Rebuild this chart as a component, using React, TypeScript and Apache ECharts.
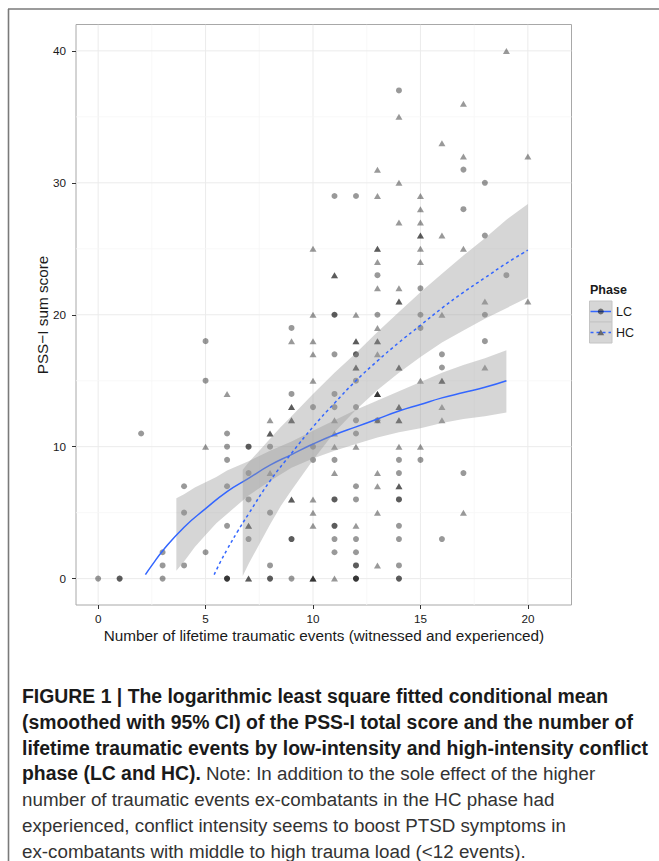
import React, { useEffect, useRef } from "react";
import * as echarts from "echarts";

// ---- axis ticks / grid ----
const xTicks = [0, 5, 10, 15, 20];
const yTicks = [0, 10, 20, 30, 40];
const xMinorGrid = [2.5, 7.5, 12.5, 17.5];
const yMinorGrid = [5, 15, 25, 35];

// ---- observed points (duplicates = overlapping, darker marks) ----
const lcPoints: [number, number][] = [
  [5, 18], [5, 15], [2, 11], [6, 11], [6, 10], [7, 10], [7, 10], [6, 9], [7, 8], [4, 7], [6, 7], [7, 6],
  [4, 5], [6, 4], [7, 3], [3, 2], [5, 2], [3, 1], [4, 1], [0, 0], [1, 0], [1, 0], [3, 0], [6, 0], [6, 0], [6, 0],
  [9, 19], [15, 19], [18, 18], [11, 17], [12, 17], [12, 17], [16, 17], [16, 16], [12, 15], [9, 14], [11, 14],
  [10, 13], [11, 13], [12, 13], [12, 12], [13, 12], [12, 11], [8, 10], [10, 10], [10, 9], [11, 9], [14, 9], [15, 9],
  [14, 8], [17, 8], [12, 7], [11, 6], [11, 6], [12, 6], [14, 6], [14, 6], [8, 5], [11, 4], [11, 4], [14, 4],
  [9, 3], [9, 3], [11, 3], [12, 3], [14, 3], [16, 3], [11, 2], [12, 2], [8, 1], [12, 1], [12, 1], [14, 1],
  [8, 0], [8, 0], [9, 0], [12, 0], [12, 0], [12, 0], [14, 0], [14, 0],
  [14, 37], [17, 31], [18, 30], [11, 29], [12, 29], [17, 28], [18, 26], [13, 23], [19, 23], [15, 22],
  [11, 20], [11, 20], [13, 20], [15, 20], [18, 20],
];
const hcPoints: [number, number][] = [
  [6, 14], [5, 10], [7, 4], [7, 4], [7, 0], [7, 0],
  [13, 19], [9, 18], [10, 18], [12, 18], [12, 18], [13, 18], [13, 18], [10, 17], [13, 17], [12, 16], [12, 16],
  [14, 16], [14, 16], [18, 16], [10, 15], [15, 15], [16, 15], [16, 15], [13, 14], [13, 14], [13, 14], [9, 13], [9, 13],
  [14, 13], [14, 13], [16, 13], [8, 12], [9, 12], [9, 12], [11, 12], [13, 12], [14, 12], [14, 12], [16, 12],
  [8, 11], [8, 11], [11, 11], [11, 10], [12, 10], [14, 10], [15, 10], [8, 8], [11, 8], [13, 8], [13, 7], [14, 7], [14, 7],
  [9, 6], [9, 6], [10, 6], [10, 5], [13, 5], [17, 5], [10, 4], [12, 4], [13, 1], [10, 0], [10, 0], [10, 0], [11, 0],
  [19, 40], [17, 36], [14, 35], [16, 33], [17, 32], [20, 32], [13, 31], [14, 30], [13, 29], [15, 29], [15, 28],
  [14, 27], [15, 27], [15, 26], [15, 26], [16, 26], [10, 25], [13, 25], [13, 25], [15, 25], [17, 25], [13, 24], [15, 24],
  [11, 23], [11, 23], [13, 22], [14, 22], [14, 21], [14, 21], [18, 21], [20, 21], [10, 20], [12, 20], [16, 20],
];

// ---- fitted curves and 95% CI bands ----
const lcFitX = [2.2, 2.5, 3, 4, 5, 6, 7, 8, 9, 10, 11, 12, 13, 14, 15, 16, 17, 18, 19];
const lcFitY = [0.3, 1.0, 2.1, 3.9, 5.3, 6.6, 7.6, 8.6, 9.4, 10.2, 10.9, 11.5, 12.1, 12.7, 13.2, 13.7, 14.1, 14.5, 15.0];
const lcBandX = [3.64, 4, 4.5, 5, 5.5, 6, 7, 8, 9, 10, 11, 12, 13, 14, 15, 16, 17, 18, 19];
const lcBandLo = [0.6, 1.3, 2.4, 3.3, 4.2, 4.9, 6.3, 7.4, 8.4, 9.1, 9.7, 10.2, 10.7, 11.1, 11.4, 11.8, 12.1, 12.3, 12.6];
const lcBandHi = [6.1, 6.4, 6.9, 7.3, 7.7, 8.2, 8.9, 9.7, 10.4, 11.2, 12.0, 12.8, 13.5, 14.2, 14.9, 15.6, 16.2, 16.7, 17.3];

const hcFitX = [5.4, 5.7, 6, 6.5, 7, 8, 9, 10, 11, 12, 13, 14, 15, 16, 17, 18, 19, 20];
const hcFitY = [0.3, 1.3, 2.2, 3.6, 4.9, 7.4, 9.5, 11.5, 13.3, 15.0, 16.5, 17.9, 19.2, 20.5, 21.7, 22.8, 23.9, 24.9];
const hcBandX = [6.73, 7, 7.5, 8, 8.5, 9, 10, 11, 12, 13, 14, 15, 16, 17, 18, 19, 20];
const hcBandLo = [0.2, 1.1, 2.6, 4.1, 5.5, 6.7, 9.0, 11.1, 12.8, 14.3, 15.6, 16.8, 17.9, 18.8, 19.7, 20.5, 21.3];
const hcBandHi = [8.25, 8.8, 9.7, 10.6, 11.5, 12.3, 14.0, 15.6, 17.1, 18.7, 20.2, 21.7, 23.1, 24.5, 25.8, 27.2, 28.4];

// ---- texts ----
const xTitle = "Number of lifetime traumatic events (witnessed and experienced)";
const yTitle = "PSS\u2212I sum score";
const legendTitle = "Phase";
const legendLabels = ["LC", "HC"];
const captionBold = [
  "FIGURE 1 | The logarithmic least square fitted conditional mean",
  "(smoothed with 95% CI) of the PSS-I total score and the number of",
  "lifetime traumatic events by low-intensity and high-intensity conflict",
  "phase (LC and HC).",
];
const captionNormal = [
  " Note: In addition to the sole effect of the higher",
  "number of traumatic events ex-combatants in the HC phase had",
  "experienced, conflict intensity seems to boost PTSD symptoms in",
  "ex-combatants with middle to high trauma load (<12 events).",
];

const FONT = "'Liberation Sans', Arial, Helvetica, sans-serif";
const BLUE = "#3366FF";
const BAND = "rgba(153,153,153,0.4)";
const POINT = "rgba(0,0,0,0.5)";

function bandSeries(xs: number[], lo: number[], hi: number[], z: number) {
  return {
    type: "custom",
    z,
    silent: true,
    clip: true,
    data: xs.map((x, i) => [x, lo[i], hi[i]]),
    encode: { x: 0, y: [1, 2] },
    renderItem: (params: any, api: any) => {
      if (params.dataIndex !== 0) return { type: "group", children: [] };
      const upper = xs.map((x, i) => api.coord([x, hi[i]]));
      const lower = xs.map((x, i) => api.coord([x, lo[i]])).reverse();
      return {
        type: "polygon",
        shape: { points: upper.concat(lower) },
        style: { fill: BAND, stroke: null },
      };
    },
  };
}

export default function App() {
  const ref = useRef<HTMLDivElement>(null);
  useEffect(() => {
    if (!ref.current) return;
    const chart = echarts.init(ref.current, undefined, { renderer: "svg" });

    const gridData: number[][] = [
      ...xTicks.map((v) => [v, 0, 0]),
      ...xMinorGrid.map((v) => [v, 0, 1]),
      ...yTicks.map((v) => [0, v, 2]),
      ...yMinorGrid.map((v) => [0, v, 3]),
    ];

    const capY = [696, 722, 747.5, 773, 799, 825, 851];
    const captionGraphics: any[] = [];
    for (let i = 0; i < 3; i++) {
      captionGraphics.push({
        type: "text",
        x: 22,
        y: capY[i],
        style: {
          text: captionBold[i],
          fontFamily: FONT,
          fontSize: 19.4,
          fontWeight: "bold",
          fill: "#1a1a1a",
          verticalAlign: "middle",
          align: "left",
        },
      });
    }
    captionGraphics.push({
      type: "text",
      x: 22,
      y: capY[3],
      style: {
        text: "{b|" + captionBold[3] + "}{n|" + captionNormal[0] + "}",
        fontFamily: FONT,
        verticalAlign: "middle",
        align: "left",
        rich: {
          b: { fontFamily: FONT, fontSize: 19.4, fontWeight: "bold", fill: "#1a1a1a" },
          n: { fontFamily: FONT, fontSize: 18.8, fontWeight: "normal", fill: "#333333" },
        },
      },
    });
    for (let i = 1; i < 4; i++) {
      captionGraphics.push({
        type: "text",
        x: 22,
        y: capY[3 + i],
        style: {
          text: captionNormal[i],
          fontFamily: FONT,
          fontSize: 18.8,
          fill: "#333333",
          verticalAlign: "middle",
          align: "left",
        },
      });
    }

    const legendGraphics: any[] = [
      {
        type: "text",
        x: 590,
        y: 290,
        style: { text: legendTitle, fontFamily: FONT, fontSize: 12.5, fontWeight: "bold", fill: "#1a1a1a", verticalAlign: "middle" },
      },
      { type: "rect", shape: { x: 589.5, y: 301, width: 22.5, height: 21 }, style: { fill: "#d6d6d6", stroke: "#c4c4c4", lineWidth: 1 } },
      { type: "rect", shape: { x: 589.5, y: 322, width: 22.5, height: 21 }, style: { fill: "#d6d6d6", stroke: "#c4c4c4", lineWidth: 1 } },
      { type: "line", shape: { x1: 590.5, y1: 311.5, x2: 611, y2: 311.5 }, style: { stroke: BLUE, lineWidth: 1.5 } },
      { type: "circle", shape: { cx: 600.75, cy: 311.5, r: 3 }, style: { fill: POINT } },
      { type: "line", shape: { x1: 590.5, y1: 332.5, x2: 611, y2: 332.5 }, style: { stroke: BLUE, lineWidth: 1.5, lineDash: [3, 3] } },
      {
        type: "polygon",
        shape: { points: [[597.3, 335.3], [604.2, 335.3], [600.75, 329.4]] },
        style: { fill: POINT },
      },
      { type: "text", x: 616, y: 312, style: { text: legendLabels[0], fontFamily: FONT, fontSize: 12.5, fill: "#1a1a1a", verticalAlign: "middle" } },
      { type: "text", x: 616, y: 333, style: { text: legendLabels[1], fontFamily: FONT, fontSize: 12.5, fill: "#1a1a1a", verticalAlign: "middle" } },
    ];

    const frame: any[] = [
      { type: "line", shape: { x1: 8.5, y1: 9, x2: 8.5, y2: 861 }, style: { stroke: "#7a7a7a", lineWidth: 1.6 } },
      { type: "line", shape: { x1: 8, y1: 9, x2: 659, y2: 9 }, style: { stroke: "#7a7a7a", lineWidth: 1.6 } },
    ];

    const titles: any[] = [
      {
        type: "text",
        x: 324,
        y: 635,
        style: { text: xTitle, fontFamily: FONT, fontSize: 15.3, fill: "#1a1a1a", align: "center", verticalAlign: "middle" },
      },
      {
        type: "text",
        x: 42,
        y: 315,
        rotation: Math.PI / 2,
        style: { text: yTitle, fontFamily: FONT, fontSize: 15.3, fill: "#1a1a1a", align: "center", verticalAlign: "middle" },
      },
    ];

    chart.setOption({
      animation: false,
      backgroundColor: "#ffffff",
      grid: {
        left: 76,
        top: 24.5,
        width: 495.5,
        height: 580.5,
        show: true,
        backgroundColor: "#ffffff",
        borderColor: "#a8a8a8",
        borderWidth: 1,
      },
      xAxis: {
        type: "value",
        min: -1.03,
        max: 22.03,
        axisLine: { show: false, onZero: false },
        splitLine: { show: false },
        axisTick: { show: true, length: 4, customValues: xTicks, lineStyle: { color: "#333333", width: 1 } },
        axisLabel: { customValues: xTicks, margin: 7, fontSize: 11.7, color: "#1a1a1a", fontFamily: FONT },
      },
      yAxis: {
        type: "value",
        min: -2,
        max: 42,
        axisLine: { show: false, onZero: false },
        splitLine: { show: false },
        axisTick: { show: true, length: 4, customValues: yTicks, lineStyle: { color: "#333333", width: 1 } },
        axisLabel: { customValues: yTicks, margin: 10, fontSize: 11.7, color: "#1a1a1a", fontFamily: FONT },
      },
      series: [
        {
          type: "custom",
          z: 1,
          silent: true,
          clip: true,
          data: gridData,
          encode: { x: 0, y: 1 },
          renderItem: (params: any, api: any) => {
            const cs = params.coordSys;
            const kind = api.value(2);
            const major = kind === 0 || kind === 2;
            const style = { stroke: major ? "#ebebeb" : "#f6f6f6", lineWidth: major ? 1 : 0.8 };
            if (kind < 2) {
              const px = api.coord([api.value(0), 0])[0];
              return { type: "line", shape: { x1: px, y1: cs.y, x2: px, y2: cs.y + cs.height }, style };
            }
            const py = api.coord([0, api.value(1)])[1];
            return { type: "line", shape: { x1: cs.x, y1: py, x2: cs.x + cs.width, y2: py }, style };
          },
        },
        {
          type: "scatter",
          name: "LC",
          z: 2,
          silent: true,
          data: lcPoints,
          symbol: "circle",
          symbolSize: 6,
          itemStyle: { color: POINT },
        },
        {
          type: "scatter",
          name: "HC",
          z: 2,
          silent: true,
          data: hcPoints,
          symbol: "triangle",
          symbolSize: [7, 6],
          itemStyle: { color: POINT },
        },
        bandSeries(lcBandX, lcBandLo, lcBandHi, 3),
        {
          type: "line",
          z: 4,
          silent: true,
          data: lcFitX.map((x, i) => [x, lcFitY[i]]),
          smooth: true,
          showSymbol: false,
          symbol: "none",
          lineStyle: { color: BLUE, width: 1.5 },
        },
        bandSeries(hcBandX, hcBandLo, hcBandHi, 5),
        {
          type: "line",
          z: 6,
          silent: true,
          data: hcFitX.map((x, i) => [x, hcFitY[i]]),
          smooth: true,
          showSymbol: false,
          symbol: "none",
          lineStyle: { color: BLUE, width: 1.5, type: [3, 3] },
        },
      ],
      graphic: [...frame, ...titles, ...legendGraphics, ...captionGraphics],
    });

    return () => chart.dispose();
  }, []);

  return (
    <div
      ref={ref}
      style={{ position: "fixed", left: 0, top: 0, width: 659, height: 861, background: "#ffffff" }}
    />
  );
}
